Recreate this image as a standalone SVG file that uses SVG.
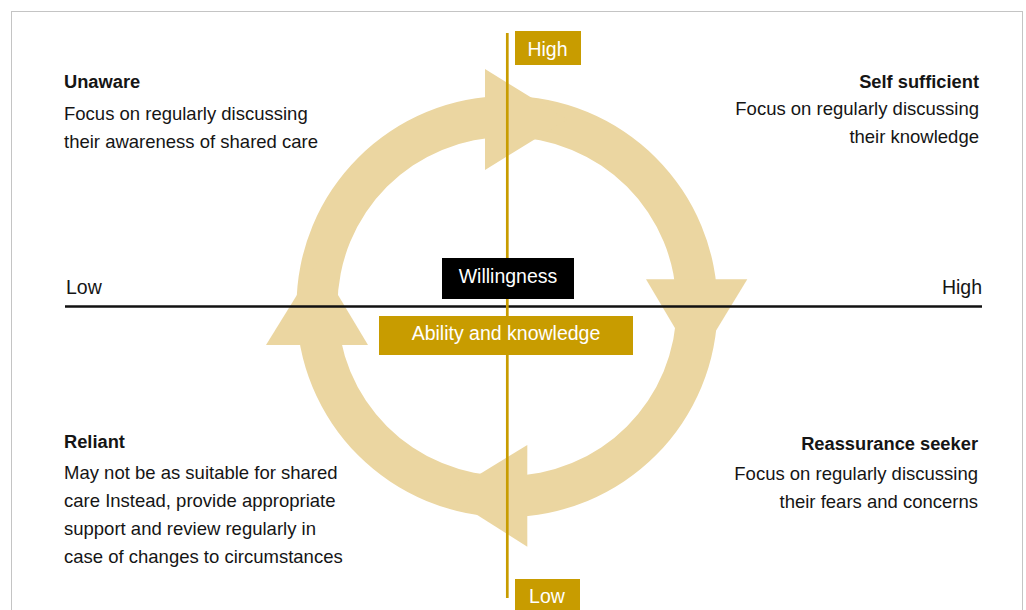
<svg xmlns="http://www.w3.org/2000/svg" width="1026" height="610" viewBox="0 0 1026 610">
<style>
  .ring{fill:#ebd6a1}
  .t{font-family:"Liberation Sans",Arial,sans-serif;font-size:18.5px;fill:#151515}
  .b{font-family:"Liberation Sans",Arial,sans-serif;font-size:18.3px;font-weight:bold;fill:#151515}
  .ax{font-family:"Liberation Sans",Arial,sans-serif;font-size:19.5px;fill:#151515}
  .w{font-family:"Liberation Sans",Arial,sans-serif;font-size:19.5px;fill:#ffffff;text-anchor:middle}
  .gold{fill:#c89c00}
  .r{text-anchor:end}
</style>
<rect x="0" y="0" width="1026" height="610" fill="#ffffff"/>
<rect x="11.5" y="11.5" width="1011" height="620" fill="none" stroke="#c4c4c4" stroke-width="1"/>

<g id="connectors">
  <path class="ring" fill-rule="evenodd" d="M507,96 A210.5,210.5 0 1 1 507,517 A210.5,210.5 0 1 1 507,96 Z M507,137 A169.5,169.5 0 1 0 507,476 A169.5,169.5 0 1 0 507,137 Z"/>
  <polygon class="ring" points="485,69 567,119.5 485,170"/>
  <polygon class="ring" points="646,279.3 747.3,279.3 696,363.4"/>
  <polygon class="ring" points="527.3,445 527.3,546.7 445.6,495"/>
  <polygon class="ring" points="266,345 368,345 317.8,261.2"/>
</g>

<g id="axes">
  <line x1="65" y1="306.5" x2="982" y2="306.5" stroke="#111" stroke-width="2.7"/>
  <line x1="507.3" y1="33" x2="507.3" y2="598" stroke="#c89c00" stroke-width="2.7"/>
</g>

<g id="axis-low-left"><text class="ax" x="66" y="294">Low</text></g>
<g id="axis-high-right"><text class="ax r" x="982" y="294">High</text></g>

<g id="label-high">
  <rect class="gold" x="515" y="31" width="66" height="34"/>
  <text class="w" x="547.5" y="56">High</text>
</g>
<g id="label-low">
  <rect class="gold" x="515" y="579" width="65" height="40"/>
  <text class="w" x="547" y="603">Low</text>
</g>
<g id="label-willingness">
  <rect x="442" y="258" width="132" height="41" fill="#000"/>
  <text class="w" x="508" y="283">Willingness</text>
</g>
<g id="label-ability">
  <rect class="gold" x="379" y="316" width="254" height="39"/>
  <text class="w" x="506" y="340">Ability and knowledge</text>
</g>

<g id="unaware">
  <text class="b" x="64" y="88">Unaware</text>
  <text class="t" x="64" y="120">Focus on regularly discussing</text>
  <text class="t" x="64" y="148">their awareness of shared care</text>
</g>
<g id="self-sufficient">
  <text class="b r" x="979" y="88">Self sufficient</text>
  <text class="t r" x="979" y="115">Focus on regularly discussing</text>
  <text class="t r" x="979" y="143">their knowledge</text>
</g>
<g id="reliant">
  <text class="b" x="64" y="448">Reliant</text>
  <text class="t" x="64" y="479">May not be as suitable for shared</text>
  <text class="t" x="64" y="507">care Instead, provide appropriate</text>
  <text class="t" x="64" y="535">support and review regularly in</text>
  <text class="t" x="64" y="563">case of changes to circumstances</text>
</g>
<g id="reassurance-seeker">
  <text class="b r" x="978" y="450">Reassurance seeker</text>
  <text class="t r" x="978" y="480">Focus on regularly discussing</text>
  <text class="t r" x="978" y="508">their fears and concerns</text>
</g>
</svg>
